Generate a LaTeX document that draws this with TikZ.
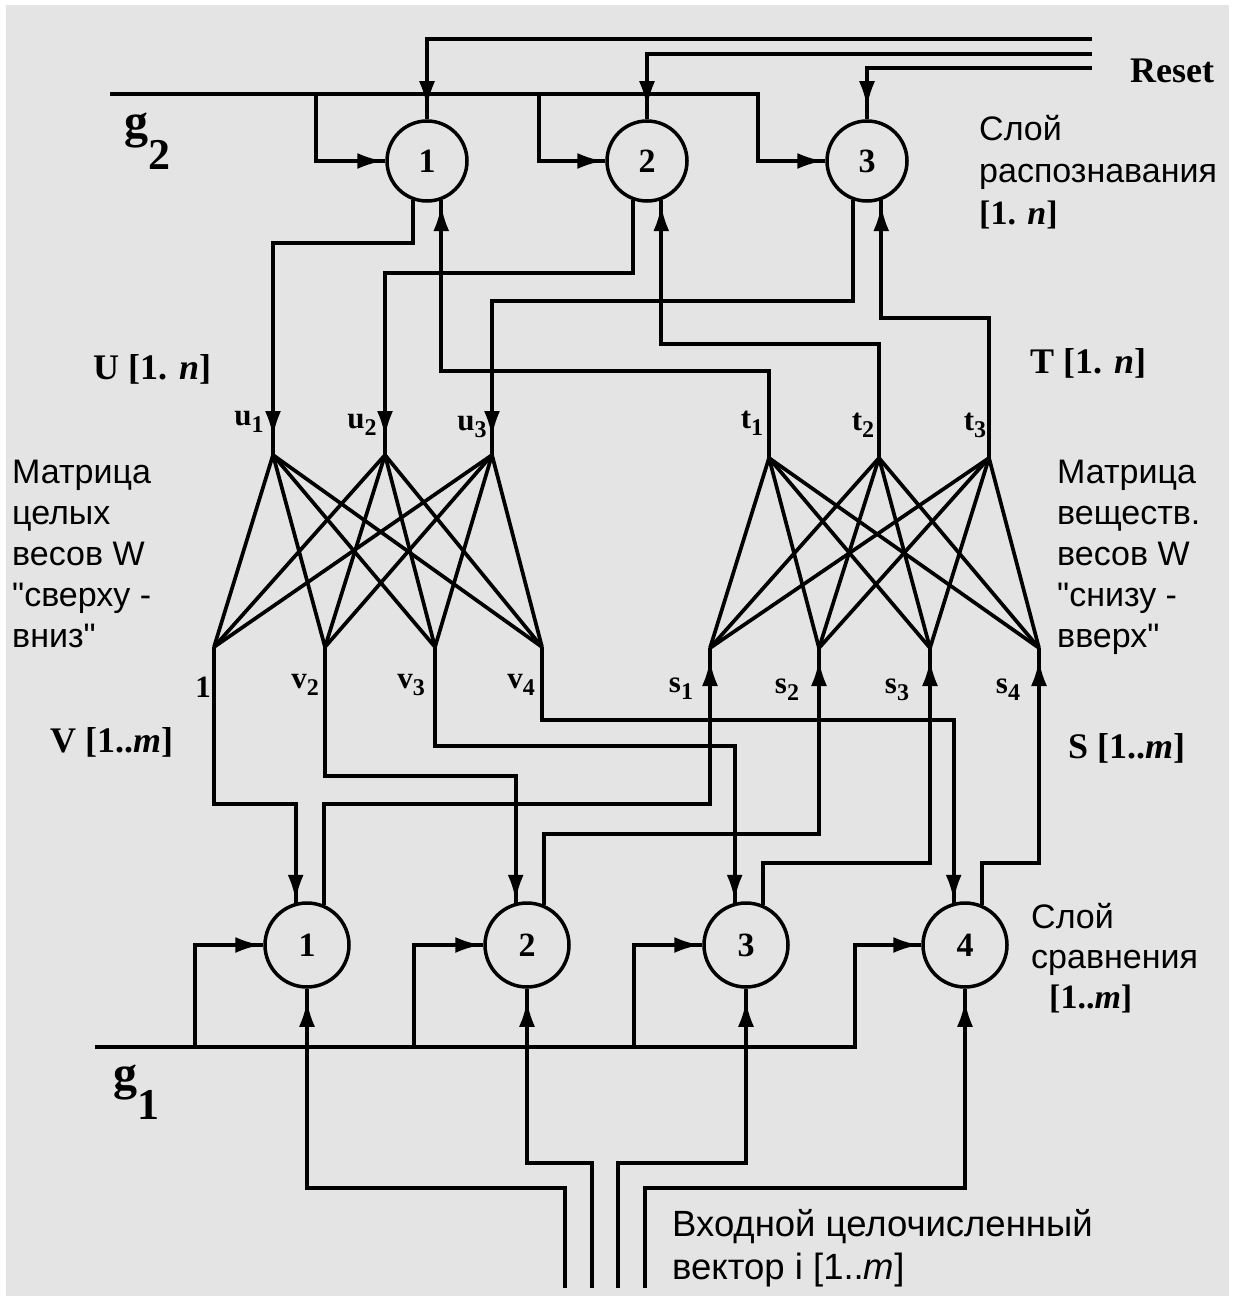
\documentclass[tikz,border=0pt]{standalone}
\usepackage{fontspec}
\setmainfont{Liberation Serif}
\newfontfamily\sansf{Liberation Sans}
\usetikzlibrary{arrows.meta,decorations.markings}
\definecolor{bggray}{RGB}{228,228,228}
\newcommand\mysub[1]{\raisebox{-7pt}{\fontsize{24}{24}\selectfont #1}}
\tikzset{
  wire/.style={line width=3.7pt, black},
  arr/.style={postaction={decorate}, decoration={markings, mark=at position #1 with {\arrow{Latex[length=26pt,width=16pt]}}}},
  arr/.default={-2pt},
  neuron/.style={circle, draw, line width=3.5pt, minimum size=80pt, inner sep=0pt, font=\bfseries\fontsize{34}{34}\selectfont},
  cneuron/.style={neuron, minimum size=84pt},
  lbl/.style={font=\sansf\fontsize{34}{42}\selectfont, align=left, inner sep=0pt, anchor=north west},
  vec/.style={font=\bfseries\fontsize{36}{36}\selectfont, inner sep=0pt, anchor=west},
  idx/.style={font=\bfseries\fontsize{31}{31}\selectfont, inner sep=0pt},
  gl/.style={font=\bfseries\fontsize{48}{48}\selectfont, inner sep=0pt, anchor=base west}
}
\begin{document}
\begin{tikzpicture}[x=1pt,y=-1pt]
\useasboundingbox (0,0) rectangle (1233,1300);
\fill[white] (0,0) rectangle (1233,1300);
\fill[bggray] (6,5) rectangle (1229,1296);

% recognition layer
\node[neuron] (R1) at (427,161) {1};
\node[neuron] (R2) at (647,161) {2};
\node[neuron] (R3) at (867,161) {3};
% comparison layer
\node[cneuron] (C1) at (307,945) {1};
\node[cneuron] (C2) at (527,945) {2};
\node[cneuron] (C3) at (746,945) {3};
\node[cneuron] (C4) at (965,945) {4};

% fan points
\coordinate (u1) at (273,455);
\coordinate (u2) at (385,455);
\coordinate (u3) at (492,455);
\coordinate (v1) at (214,647);
\coordinate (v2) at (325,647);
\coordinate (v3) at (435,647);
\coordinate (v4) at (542,647);
\coordinate (t1) at (769,458);
\coordinate (t2) at (879,458);
\coordinate (t3) at (989,458);
\coordinate (s1) at (710,648);
\coordinate (s2) at (819,648);
\coordinate (s3) at (930,648);
\coordinate (s4) at (1039,648);

\foreach \a in {u1,u2,u3} \foreach \b in {v1,v2,v3,v4} \draw[wire] (\a) -- (\b);
\foreach \a in {t1,t2,t3} \foreach \b in {s1,s2,s3,s4} \draw[wire] (\a) -- (\b);

% reset lines
\coordinate (rs1) at (1092,39);
\coordinate (rs2) at (1092,54);
\coordinate (rs3) at (1092,68);
\draw[wire,arr=-12pt] (rs1) -| (R1.north);
\draw[wire,arr=-12pt] (rs2) -| (R2.north);
\draw[wire,arr=-12pt] (rs3) -| (R3.north);

% g2
\coordinate (g2s) at (110,94);
\coordinate (g2a) at (316,94);
\coordinate (g2b) at (539,94);
\draw[wire,arr] (g2s) -- (758,94) |- (R3.west);
\draw[wire,arr] (g2a) |- (R1.west);
\draw[wire,arr] (g2b) |- (R2.west);

% recognition outputs to U
\draw[wire,arr=-18pt] (R1.250) |- (273,243) -- (u1);
\draw[wire,arr=-18pt] (R2.250) |- (385,273) -- (u2);
\draw[wire,arr=-18pt] (R3.250) |- (492,301) -- (u3);
% T to recognition inputs
\draw[wire,arr=-5pt] (t1) -- (769,371) -| (R1.290);
\draw[wire,arr=-5pt] (t2) -- (879,344) -| (R2.290);
\draw[wire,arr=-5pt] (t3) -- (989,318) -| (R3.290);

% V to comparison
\draw[wire,arr] (v1) -- (214,804) -| (C1.105);
\draw[wire,arr] (v2) -- (325,776) -| (C2.105);
\draw[wire,arr] (v3) -- (435,746) -| (C3.105);
\draw[wire,arr] (v4) -- (542,720) -| (C4.105);
% comparison outputs to S
\draw[wire,arr=-12pt] (C1.67) |- (710,804) -- (s1);
\draw[wire,arr=-12pt] (C2.67) |- (819,834) -- (s2);
\draw[wire,arr=-12pt] (C3.67) |- (930,863) -- (s3);
\draw[wire,arr=-12pt] (C4.67) |- (1039,863) -- (s4);

% g1
\coordinate (g1s) at (95,1047);
\coordinate (b1) at (195,1047);
\coordinate (b2) at (414,1047);
\coordinate (b3) at (634,1047);
\draw[wire,arr] (g1s) -- (855,1047) |- (C4.west);
\draw[wire,arr] (b1) |- (C1.west);
\draw[wire,arr] (b2) |- (C2.west);
\draw[wire,arr] (b3) |- (C3.west);

% input vector
\coordinate (i1) at (565,1288);
\coordinate (i2) at (592,1288);
\coordinate (i3) at (618,1288);
\coordinate (i4) at (645,1288);
\draw[wire,arr=-12pt] (i1) -- (565,1188) -| (C1.south);
\draw[wire,arr=-12pt] (i2) -- (592,1163) -| (C2.south);
\draw[wire,arr=-12pt] (i3) -- (618,1163) -| (C3.south);
\draw[wire,arr=-12pt] (i4) -- (645,1188) -| (C4.south);

% labels
\node[font=\bfseries\fontsize{36}{36}\selectfont, inner sep=0pt, anchor=west] (reset) at (1130,71) {Reset};
\node[gl] (g2) at (124,138) {g\raisebox{-32pt}{\fontsize{44}{44}\selectfont 2}};
\node[gl] (g1) at (113,1089) {g\raisebox{-30pt}{\fontsize{44}{44}\selectfont 1}};

\node[lbl] (lyrR) at (979,115) {Слой\\распознавания\\{\rmfamily\bfseries [1. \textit{n}]}};
\node[lbl, font=\sansf\fontsize{34}{41}\selectfont] (mL) at (12,460) {Матрица\\целых\\весов W\\"сверху -\\вниз"};
\node[lbl, font=\sansf\fontsize{34}{41}\selectfont] (mR) at (1057,460) {Матрица\\веществ.\\весов W\\"снизу -\\вверх"};
\node[lbl, font=\sansf\fontsize{34}{40}\selectfont] (lyrC) at (1031,903) {Слой\\сравнения\\\hspace*{18pt}{\rmfamily\bfseries [1..\textit{m}]}};
\node[lbl, font=\sansf\fontsize{36.5}{43}\selectfont] (inp) at (672,1209) {Входной целочисленный\\вектор i [1..\textit{m}]};

\node[vec] (U) at (93,369) {U [1. \textit{n}]};
\node[vec] (T) at (1030,363) {T [1. \textit{n}]};
\node[vec] (V) at (50,742) {V [1..\textit{m}]};
\node[vec] (S) at (1068,748) {S [1..\textit{m}]};

\node[idx] (lu1) at (249,422) {u\mysub{1}};
\node[idx] (lu2) at (362,425) {u\mysub{2}};
\node[idx] (lu3) at (472,427) {u\mysub{3}};
\node[idx] (lt1) at (752,423) {t\mysub{1}};
\node[idx] (lt2) at (863,425) {t\mysub{2}};
\node[idx] (lt3) at (975,425) {t\mysub{3}};
\node[idx] (lv1) at (203,687) {1};
\node[idx] (lv2) at (305,685) {v\mysub{2}};
\node[idx] (lv3) at (411,685) {v\mysub{3}};
\node[idx] (lv4) at (521,685) {v\mysub{4}};
\node[idx] (ls1) at (681,689) {s\mysub{1}};
\node[idx] (ls2) at (787,690) {s\mysub{2}};
\node[idx] (ls3) at (897,690) {s\mysub{3}};
\node[idx] (ls4) at (1008,690) {s\mysub{4}};
\end{tikzpicture}
\end{document}
